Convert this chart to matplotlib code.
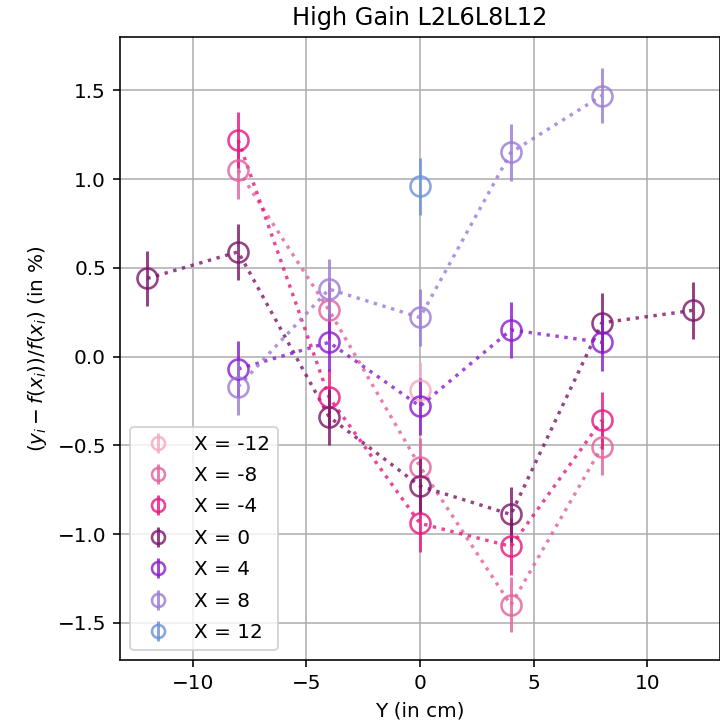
import matplotlib
matplotlib.use('Agg')
import matplotlib.pyplot as plt

# positions along Y (cm) and relative residuals (%) for each X slice
x_labels = [-12, -8, -4, 0, 4, 8, 12]

y_m12 = [0]
r_m12 = [-0.19]
e_m12 = [0.16]

y_m8 = [-8, -4, 0, 4, 8]
r_m8 = [1.05, 0.26, -0.62, -1.40, -0.51]
e_m8 = [0.16, 0.16, 0.16, 0.155, 0.16]

y_m4 = [-8, -4, 0, 4, 8]
r_m4 = [1.22, -0.23, -0.94, -1.07, -0.36]
e_m4 = [0.16, 0.16, 0.16, 0.16, 0.16]

y_0 = [-12, -8, -4, 0, 4, 8, 12]
r_0 = [0.44, 0.59, -0.34, -0.73, -0.89, 0.19, 0.26]
e_0 = [0.157, 0.157, 0.157, 0.157, 0.157, 0.17, 0.16]

y_4 = [-8, -4, 0, 4, 8]
r_4 = [-0.07, 0.08, -0.28, 0.15, 0.08]
e_4 = [0.16, 0.16, 0.16, 0.16, 0.16]

y_8 = [-8, -4, 0, 4, 8]
r_8 = [-0.17, 0.38, 0.22, 1.15, 1.47]
e_8 = [0.16, 0.17, 0.16, 0.16, 0.155]

y_12 = [0]
r_12 = [0.96]
e_12 = [0.16]

colors = ['#f4a9bf', '#e2619c', '#e8167e', '#7a1569', '#8a1ad0', '#9a7ad8', '#6a90d8']

series = [(y_m12, r_m12, e_m12), (y_m8, r_m8, e_m8), (y_m4, r_m4, e_m4),
          (y_0, r_0, e_0), (y_4, r_4, e_4), (y_8, r_8, e_8), (y_12, r_12, e_12)]

fig = plt.figure(figsize=(5, 726 / 144), dpi=144)
ax = fig.add_axes([0.1667, 0.0909, 0.8333, 0.858])

for (ys, rs, es), xl, c in zip(series, x_labels, colors):
    ax.plot(ys, rs, ':', color=c, lw=1.7, alpha=0.8)
    ax.errorbar(ys, rs, yerr=es, fmt='o', color=c, mfc='none', ms=10,
                mew=1.3, elinewidth=1.5, alpha=0.8, label=f'X = {xl}')

ax.set_xlim(-13.2, 13.2)
ax.set_ylim(-1.71, 1.80)
ax.grid(True)
ax.set_title('High Gain L2L6L8L12')
ax.set_xlabel('Y (in cm)')
ax.set_ylabel(r'$(y_i - f(x_i))/f(x_i)$ (in %)')
ax.legend(loc='lower left', markerscale=0.65, labelspacing=0.62)

fig.savefig('out.png', dpi=144)
